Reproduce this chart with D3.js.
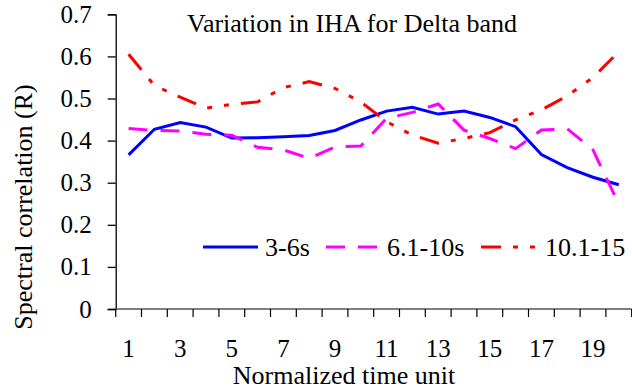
<!DOCTYPE html>
<html>
<head>
<meta charset="utf-8">
<script src="https://cdn.jsdelivr.net/npm/d3@7"></script>
<style>
  html, body { margin: 0; padding: 0; background: #fff; }
  svg { display: block; font-family: "Liberation Serif", "Times New Roman", serif; }
</style>
</head>
<body>
<svg id="chart"></svg>
<script>
// chart data
const categories = d3.range(1, 21)
const tickLabels = [1, 3, 5, 7, 9, 11, 13, 15, 17, 19]
const yTicks = [0, 0.1, 0.2, 0.3, 0.4, 0.5, 0.6, 0.7]
const seriesNames = ['3-6s', '6.1-10s', '10.1-15']
const values36 = [0.366, 0.427, 0.443, 0.432, 0.406, 0.407, 0.409, 0.412, 0.424, 0.449,
                  0.470, 0.479, 0.463, 0.470, 0.455, 0.433, 0.367, 0.336, 0.313, 0.295]
const values61 = [0.429, 0.424, 0.423, 0.415, 0.413, 0.384, 0.378, 0.358, 0.385, 0.387,
                  0.453, 0.467, 0.487, 0.425, 0.405, 0.381, 0.425, 0.428, 0.378, 0.249]
const values101 = [0.605, 0.531, 0.503, 0.477, 0.486, 0.492, 0.526, 0.540, 0.524, 0.492,
                   0.445, 0.413, 0.394, 0.405, 0.419, 0.449, 0.473, 0.506, 0.550, 0.611]

const W = 632, H = 389
const plot = { left: 115.7, right: 631.7, top: 14.3, bottom: 309 }

const svg = d3.select('#chart').attr('width', W).attr('height', H)

const x = d3.scaleBand()
    .domain(categories)
    .range([plot.left, plot.right])
    .padding(0)

const y = d3.scaleLinear()
    .domain([0, 0.7])
    .range([plot.bottom, plot.top])

// y axis
const yAxis = d3.axisLeft(y)
    .tickValues(yTicks)
    .tickSize(8)
    .tickPadding(16)
    .tickFormat(d => d === 0 ? '0' : d3.format('.1f')(d))

const yAxisGroup = svg.append('g')
    .attr('transform', `translate(${plot.left},0)`)
    .call(yAxis)
yAxisGroup.select('.domain').attr('stroke', '#000').attr('stroke-width', 1.3)
yAxisGroup.selectAll('line').attr('stroke', '#000').attr('stroke-width', 1.3)
yAxisGroup.selectAll('text')
    .attr('font-size', 25)
    .attr('fill', '#000')
    .attr('font-family', '"Liberation Serif", serif')

// x axis: labels on odd categories, ticks between categories
const xAxisGroup = svg.append('g')
    .attr('transform', `translate(0,${plot.bottom})`)
xAxisGroup.append('line')
    .attr('x1', plot.left).attr('x2', plot.right)
    .attr('stroke', '#555').attr('stroke-width', 1.6)
xAxisGroup.selectAll('.tick-mark')
    .data(categories.concat([categories.length + 1]))
    .enter().append('line')
    .attr('class', 'tick-mark')
    .attr('x1', d => d <= categories.length ? x(d) : plot.right)
    .attr('x2', d => d <= categories.length ? x(d) : plot.right)
    .attr('y1', 0).attr('y2', 8)
    .attr('stroke', '#000').attr('stroke-width', 1.2)
xAxisGroup.selectAll('.tick-label')
    .data(tickLabels)
    .enter().append('text')
    .attr('class', 'tick-label')
    .attr('x', d => x(d) + x.bandwidth() / 2)
    .attr('y', 48)
    .attr('text-anchor', 'middle')
    .attr('font-size', 25)
    .text(d => d)

// series lines
const line = d3.line()
    .x((d, i) => x(categories[i]) + x.bandwidth() / 2)
    .y(d => y(d))

const series = [
    { name: seriesNames[0], values: values36, color: '#0000ff', dash: null },
    { name: seriesNames[1], values: values61, color: '#ff00ff', dash: '19,13' },
    { name: seriesNames[2], values: values101, color: '#ff0000', dash: '20,12,5,12,5,12' }
]

svg.append('g')
    .selectAll('path')
    .data(series)
    .enter().append('path')
    .attr('d', d => line(d.values))
    .attr('fill', 'none')
    .attr('stroke', d => d.color)
    .attr('stroke-width', 3)
    .attr('stroke-dasharray', d => d.dash)

// title
svg.append('text')
    .attr('x', 352)
    .attr('y', 32)
    .attr('text-anchor', 'middle')
    .attr('font-size', 26)
    .text('Variation in IHA for Delta band')

// axis titles
svg.append('text')
    .attr('x', 344)
    .attr('y', 384)
    .attr('text-anchor', 'middle')
    .attr('font-size', 26)
    .text('Normalized time unit')

svg.append('text')
    .attr('transform', 'translate(32,207) rotate(-90)')
    .attr('text-anchor', 'middle')
    .attr('font-size', 26)
    .text('Spectral correlation (R)')

// legend
const legendItems = [
    { x1: 203, x2: 258, tx: 265 },
    { x1: 326, x2: 377, tx: 387 },
    { x1: 481, x2: 536, tx: 545 }
]
const legendY = 247
const legend = svg.append('g')
legend.selectAll('line')
    .data(series)
    .enter().append('line')
    .attr('x1', (d, i) => legendItems[i].x1)
    .attr('x2', (d, i) => legendItems[i].x2)
    .attr('y1', legendY).attr('y2', legendY)
    .attr('stroke', d => d.color)
    .attr('stroke-width', 3)
    .attr('stroke-dasharray', d => d.dash)
legend.selectAll('text')
    .data(series)
    .enter().append('text')
    .attr('x', (d, i) => legendItems[i].tx)
    .attr('y', legendY + 9)
    .attr('font-size', 26)
    .text(d => d.name)
</script>
</body>
</html>
